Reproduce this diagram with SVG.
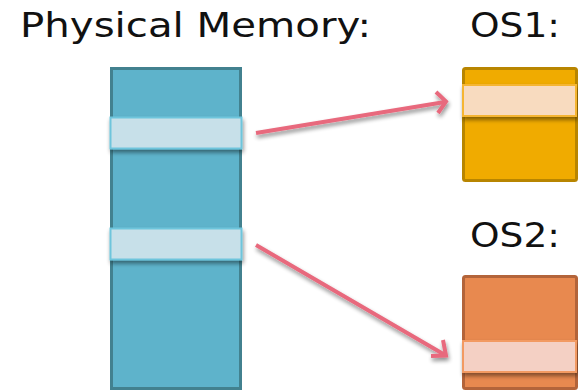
<svg xmlns="http://www.w3.org/2000/svg" width="578" height="391" viewBox="0 0 578 391">
<style>
.lbl{font-family:"DejaVu Sans","Open Sans",sans-serif;font-size:33px;fill:#111}
.conn{stroke:#e8697d;stroke-width:4;fill:none;stroke-linecap:butt}
</style>
<defs>
<filter id="sh" x="-20%" y="-50%" width="140%" height="200%">
<feGaussianBlur in="SourceAlpha" stdDeviation="2"/>
<feOffset dx="1" dy="3"/>
<feComponentTransfer><feFuncA type="linear" slope="0.45"/></feComponentTransfer>
<feMerge><feMergeNode/><feMergeNode in="SourceGraphic"/></feMerge>
</filter>
</defs>
<text class="lbl" x="20" y="37" textLength="351" lengthAdjust="spacingAndGlyphs">Physical Memory:</text>
<g id="physical">
<rect x="111.5" y="68.5" width="129" height="320" fill="#5eb3cb" stroke="#42818f" stroke-width="3"/>
<rect x="110.5" y="117.5" width="131" height="31" fill="#c7e0e9" stroke="#6ec5dc" stroke-width="2" filter="url(#sh)"/>
<rect x="110.5" y="228.5" width="131" height="31" fill="#c7e0e9" stroke="#6ec5dc" stroke-width="2" filter="url(#sh)"/>
</g>
<g id="os1">
<text class="lbl" x="470" y="37" textLength="90" lengthAdjust="spacingAndGlyphs">OS1:</text>
<rect x="463.5" y="68.5" width="113" height="112" rx="2" fill="#f0ab00" stroke="#b88500" stroke-width="3"/>
<rect x="463" y="85" width="113" height="31" fill="#f8dbbf" stroke="#f5b531" stroke-width="2" filter="url(#sh)"/>
</g>
<g id="os2">
<text class="lbl" x="470" y="247" textLength="90" lengthAdjust="spacingAndGlyphs">OS2:</text>
<rect x="463.5" y="276.5" width="113" height="112" rx="2" fill="#e8894f" stroke="#b3643a" stroke-width="3"/>
<rect x="463" y="341" width="113" height="31" fill="#f4d0c4" stroke="#f29a62" stroke-width="2" filter="url(#sh)"/>
</g>
<g id="connectors" filter="url(#sh)">
<path class="conn" d="M256,133 L445,102"/>
<path class="conn" d="M436,92 L446,101.5 L438,113"/>
<path class="conn" d="M256,245 L445,355"/>
<path class="conn" d="M443,340 L446,355.5 L431,356"/>
</g>
</svg>
